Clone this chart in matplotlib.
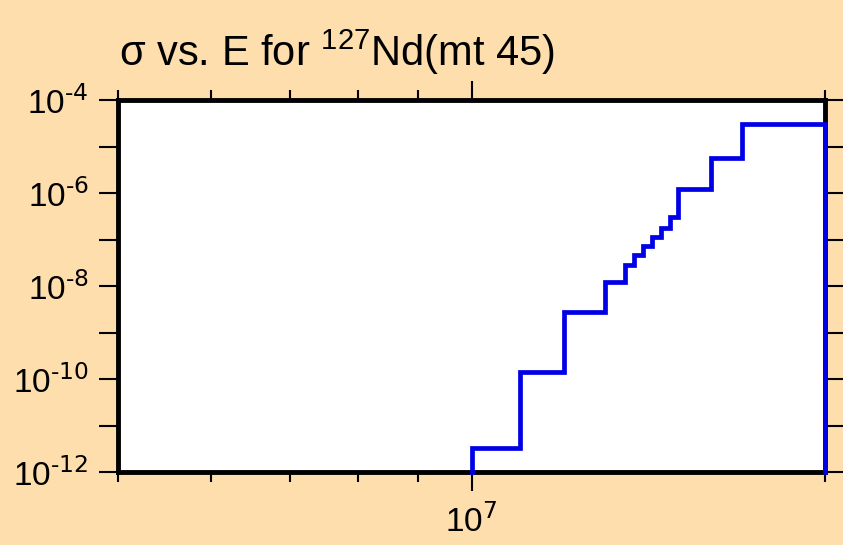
import numpy as np
import matplotlib
matplotlib.use("Agg")
import matplotlib.pyplot as plt
from matplotlib.ticker import LogLocator, FixedLocator, FuncFormatter, NullFormatter

plt.rcParams["font.family"] = ["Liberation Sans", "DejaVu Sans"]
plt.rcParams["mathtext.default"] = "regular"

# 能量分箱边界 (eV) 与截面值
edges = [1.0e7, 1.1e7, 1.2e7, 1.3e7, 1.35e7, 1.375e7, 1.4e7, 1.425e7,
         1.45e7, 1.475e7, 1.5e7, 1.6e7, 1.7e7, 2.0e7]
sigma = [3.28e-12, 1.42e-10, 2.76e-9, 1.22e-8, 2.83e-8, 4.65e-8, 7.25e-8,
         1.13e-7, 1.77e-7, 3.05e-7, 1.22e-6, 5.66e-6, 3.05e-5]
y_floor = 1e-12

bg = "#fddeac"
fig = plt.figure(figsize=(8.43, 5.45), dpi=100, facecolor=bg)
ax = fig.add_axes([118 / 843, 1 - 472 / 545, (825 - 118) / 843, (472 - 100) / 545])
ax.set_facecolor("white")

# 台阶线：从底部升起，最后落回底部
xs = [edges[0]]
ys = [y_floor]
for i, s in enumerate(sigma):
    xs += [edges[i], edges[i + 1]]
    ys += [s, s]
xs.append(edges[-1])
ys.append(y_floor)
ax.plot(xs, ys, color="#0000e6", lw=3.4, solid_joinstyle="miter", clip_on=False, zorder=3)

ax.set_xscale("log")
ax.set_yscale("log")
ax.set_xlim(5e6, 2e7)
ax.set_ylim(1e-12, 1e-4)

for sp in ax.spines.values():
    sp.set_linewidth(3.5)

def fmt(v, pos):
    e = int(round(np.log10(v)))
    return r"$10^{\text{%d}}$" % e

ax.xaxis.set_major_locator(FixedLocator([1e7]))
ax.xaxis.set_major_formatter(FuncFormatter(fmt))
ax.xaxis.set_minor_locator(LogLocator(base=10, subs=np.arange(2, 10)))
ax.xaxis.set_minor_formatter(NullFormatter())

ax.yaxis.set_major_locator(FixedLocator([1e-12, 1e-10, 1e-8, 1e-6, 1e-4]))
ax.yaxis.set_major_formatter(FuncFormatter(fmt))
ax.yaxis.set_minor_locator(FixedLocator([1e-11, 1e-9, 1e-7, 1e-5]))
ax.yaxis.set_minor_formatter(NullFormatter())

ax.tick_params(axis="x", which="major", direction="out", length=14, width=1.5,
               top=True, bottom=True, labelsize=24, pad=10)
ax.tick_params(axis="x", which="minor", direction="out", length=7, width=1.5,
               top=True, bottom=True)
ax.tick_params(axis="y", which="both", direction="out", length=14, width=1.5,
               left=True, right=True, labelsize=24, pad=7)

fig.text(119 / 843, 1 - 66 / 545, r"σ vs. E for $^{127}$Nd(mt 45)", fontsize=30,
         ha="left", va="baseline")

fig.savefig("out.png", dpi=100, facecolor=bg)
